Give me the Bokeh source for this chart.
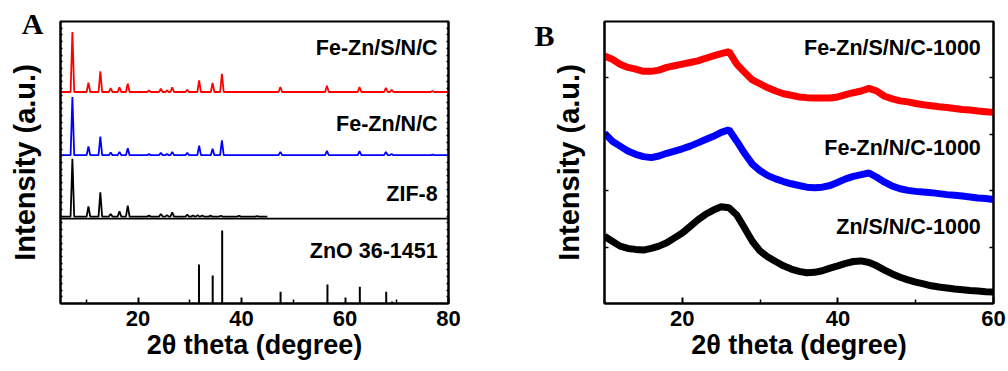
from bokeh.plotting import figure
from bokeh.layouts import row
from bokeh.models import Range1d, FixedTicker, LinearAxis, CustomJSTickFormatter
from bokeh.core.properties import value
from bokeh.embed import file_html
from bokeh.resources import INLINE
import numpy as np

# ---------------- Panel A data (offset intensities, a.u.) ----------------
# ZIF-8 peaks
zif_pos = [7.3, 10.4, 12.7, 14.7, 16.4, 18.0, 22.1, 24.4, 25.6, 26.6, 29.5, 30.6, 31.5, 32.4, 34.0, 36.0, 39.5, 43.0]
zif_h = [58.0, 10.3, 24.3, 2.7, 5.3, 11.0, 1.0, 2.7, 1.5, 4.3, 2.0, 1.2, 1.5, 1.2, 1.0, 0.8, 0.8, 0.6]
# Fe-Zn/N/C and Fe-Zn/S/N/C peaks
fe_pos = [7.3, 10.4, 12.7, 14.7, 16.4, 18.0, 22.1, 24.4, 25.6, 26.6, 29.5, 31.8, 34.4, 36.2, 47.5, 56.5, 62.8, 67.9, 69.0, 76.9]
fezn_h = [58.3, 8.7, 18.7, 2.7, 3.3, 7.0, 1.0, 2.3, 1.2, 3.3, 2.5, 9.5, 6.5, 14.7, 3.3, 4.3, 4.0, 3.3, 1.3, 0.5]
fezns_h = [60.0, 9.3, 20.7, 4.0, 4.7, 8.3, 1.7, 3.3, 1.5, 4.7, 2.3, 11.7, 9.0, 18.3, 5.0, 6.3, 5.0, 4.3, 2.3, 1.0]
# ZnO reference card 36-1451
zno_pos = [31.77, 34.42, 36.25, 47.54, 56.60, 62.86, 67.96, 69.10]
zno_h = [39.0, 28.0, 73.0, 11.7, 19.0, 16.7, 11.7, 2.0]
# offsets of the stacked patterns
base_fezns = 211.7
base_fezn = 148.5
base_zif = 87.0
zno_top = 85.0
zif_end = 45.0

labels_A = ["Fe-Zn/S/N/C", "Fe-Zn/N/C", "ZIF-8", "ZnO 36-1451"]
labels_A_y = [256.0, 180.0, 110.0, 53.0]

# ---------------- Panel B data ----------------
tt_B = list(range(10, 61))
fezns_1000 = [251.7, 248.3, 243.3, 240.0, 238.3, 236.0, 236.0, 237.3, 240.0, 241.7,
              243.3, 245.0, 246.7, 249.3, 251.7, 254.0, 256.0, 243.3, 235.0, 227.3,
              223.3, 219.3, 216.0, 213.3, 211.7, 210.0, 209.3, 209.0, 209.0, 209.0,
              210.0, 212.3, 214.3, 216.0, 218.7, 216.0, 210.7, 208.0, 206.0, 205.0,
              203.3, 202.0, 201.0, 200.0, 199.3, 198.3, 197.3, 196.7, 195.7, 195.0, 194.3]
fezn_1000 = [173.3, 165.0, 160.0, 155.0, 151.7, 149.3, 148.3, 150.0, 152.7, 155.0,
             157.3, 160.0, 163.3, 166.7, 170.0, 174.0, 176.7, 165.0, 152.7, 141.7,
             135.0, 130.0, 126.7, 124.0, 121.7, 120.0, 118.3, 117.7, 118.3, 120.0,
             123.3, 126.7, 129.3, 131.0, 132.7, 128.3, 123.3, 119.3, 116.7, 115.0,
             114.0, 113.3, 112.7, 111.7, 110.7, 110.0, 109.3, 108.3, 107.3, 106.7, 105.7]
znsn_1000 = [68.3, 63.3, 58.3, 56.0, 55.0, 54.3, 56.0, 58.3, 61.7, 66.7,
             71.7, 78.3, 85.0, 90.7, 95.0, 98.3, 97.3, 90.0, 76.7, 63.3,
             53.3, 47.3, 42.7, 38.3, 35.0, 32.7, 31.3, 31.7, 33.3, 36.0,
             38.3, 40.7, 42.7, 43.3, 41.7, 38.3, 34.0, 30.0, 26.7, 24.0,
             21.7, 20.0, 18.0, 16.7, 15.7, 14.7, 14.0, 13.3, 12.7, 12.0, 11.7]
labels_B = ["Fe-Zn/S/N/C-1000", "Fe-Zn/N/C-1000", "Zn/S/N/C-1000"]
labels_B_y = [260.0, 158.0, 78.0]

FONT = "Liberation Sans"
PEAK_HALF_WIDTH = 0.35


def pattern(base, pos, h, x0, x1):
    xs, ys = [x0], [base]
    for p_, h_ in zip(pos, h):
        xs += [p_ - PEAK_HALF_WIDTH, p_, p_ + PEAK_HALF_WIDTH]
        ys += [base, base + h_, base]
    xs.append(x1)
    ys.append(base)
    return xs, ys


def style(p, xticks, xminor, yticks, ytick_len, letter, letter_y, letter_standoff, label_standoff):
    p.xgrid.visible = False
    p.ygrid.visible = False
    p.outline_line_color = "black"
    p.outline_line_width = 2
    p.background_fill_color = "white"
    p.border_fill_color = "white"
    ax = p.xaxis[0]
    ax.ticker = FixedTicker(ticks=xticks, minor_ticks=xminor)
    ax.axis_line_width = 2
    ax.major_tick_in = 6
    ax.major_tick_out = 0
    ax.minor_tick_in = 4
    ax.minor_tick_out = 0
    ax.major_tick_line_width = 2
    ax.minor_tick_line_width = 1.5
    ax.major_label_text_font = FONT
    ax.major_label_text_font_style = "bold"
    ax.major_label_text_font_size = "22px"
    ax.major_label_text_color = "black"
    ax.major_label_standoff = 7
    ax.axis_label = "2θ theta (degree)"
    ax.axis_label_text_font = FONT
    ax.axis_label_text_font_style = "bold"
    ax.axis_label_text_font_size = "27px"
    ax.axis_label_text_color = "black"
    ax.axis_label_standoff = 1

    # left axis: frame ticks as minor ticks, the panel letter as its only (tick-less) label
    ay = p.yaxis[0]
    ay.ticker = FixedTicker(ticks=[letter_y], minor_ticks=yticks)
    ay.formatter = CustomJSTickFormatter(args=dict(txt=letter), code="return txt;")
    ay.axis_line_width = 2
    ay.major_tick_line_color = None
    ay.major_tick_in = 0
    ay.major_tick_out = 0
    ay.minor_tick_in = ytick_len
    ay.minor_tick_out = 0
    ay.minor_tick_line_width = 1.5
    ay.major_label_orientation = "horizontal"
    ay.major_label_text_font = "Liberation Serif"
    ay.major_label_text_font_style = "bold"
    ay.major_label_text_font_size = "30px"
    ay.major_label_text_color = "black"
    ay.major_label_standoff = letter_standoff
    ay.axis_label = "Intensity (a.u.)"
    ay.axis_label_text_font = FONT
    ay.axis_label_text_font_style = "bold"
    ay.axis_label_text_font_size = "29px"
    ay.axis_label_text_color = "black"
    ay.axis_label_standoff = label_standoff

    ar = LinearAxis(ticker=FixedTicker(ticks=[], minor_ticks=yticks))
    ar.axis_line_width = 2
    ar.major_tick_in = 0
    ar.major_tick_out = 0
    ar.minor_tick_in = ytick_len
    ar.minor_tick_out = 0
    ar.minor_tick_line_width = 1.5
    ar.major_label_standoff = 0
    p.add_layout(ar, "right")


# ---------------- Panel A ----------------
ymaxA = 282.3
pA = figure(width=500, height=371, x_range=Range1d(5, 80), y_range=Range1d(0, ymaxA),
            output_backend="svg", toolbar_location=None,
            min_border_left=60, min_border_right=52, min_border_top=21, min_border_bottom=68)
yticksA = list(np.arange(6.72, ymaxA, 6.72))
style(pA, [20, 40, 60, 80], [10, 30, 50, 70], yticksA, 2, "A", 280.3, 17, -22)

pA.line([5, 80], [zno_top, zno_top], line_color="black", line_width=1.8)
xs, ys = pattern(base_zif, zif_pos, zif_h, 5, zif_end)
pA.line(xs, ys, line_color="black", line_width=1.8)
xs, ys = pattern(base_fezn, fe_pos, fezn_h, 5, 80)
pA.line(xs, ys, line_color="#0000ff", line_width=1.8)
xs, ys = pattern(base_fezns, fe_pos, fezns_h, 5, 80)
pA.line(xs, ys, line_color="#ff0000", line_width=1.8)
pA.segment(x0=zno_pos, y0=[0] * len(zno_pos), x1=zno_pos, y1=zno_h, line_color="black", line_width=2)

pA.text(x=[77.9] * len(labels_A), y=labels_A_y, text=labels_A, text_align="right",
        text_baseline="middle", text_font=value(FONT), text_font_style="bold",
        text_font_size="21.5px", text_color="black")

# ---------------- Panel B ----------------
ymaxB = 286.7
pB = figure(width=508, height=371, x_range=Range1d(10, 60), y_range=Range1d(0, ymaxB),
            output_backend="svg", toolbar_location=None,
            min_border_left=104, min_border_right=15, min_border_top=20, min_border_bottom=64)
style(pB, [20, 40, 60], [10, 30, 50], [57.3, 114.7, 172.0, 229.3], 4, "B", 272.5, 50, -54)

pB.line(tt_B, znsn_1000, line_color="black", line_width=7)
pB.line(tt_B, fezn_1000, line_color="#0000ff", line_width=7)
pB.line(tt_B, fezns_1000, line_color="#ff0000", line_width=7)

pB.text(x=[58.37] * len(labels_B), y=labels_B_y, text=labels_B, text_align="right",
        text_baseline="middle", text_font=value(FONT), text_font_style="bold",
        text_font_size="21.5px", text_color="black")

layout = row(pA, pB)
open("out.html", "w").write(file_html(layout, INLINE))
